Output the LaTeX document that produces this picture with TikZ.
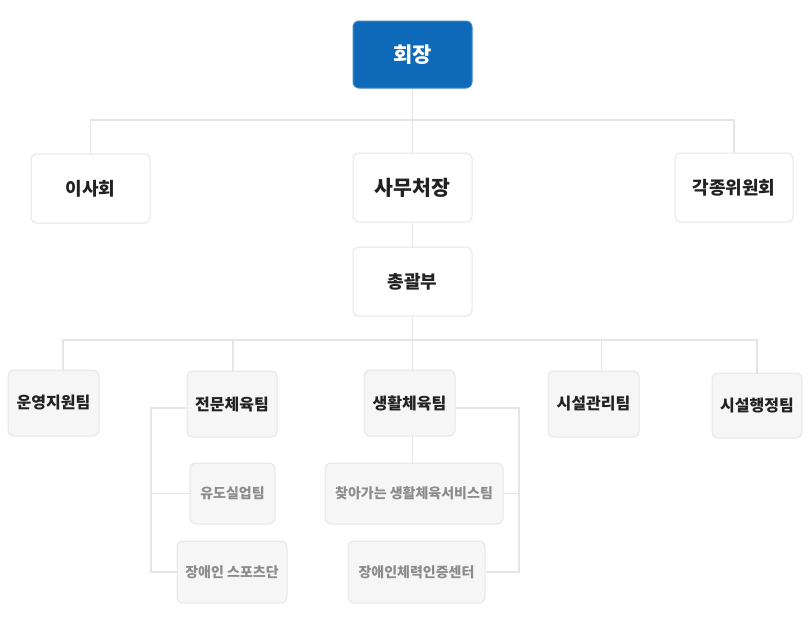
\documentclass[tikz,border=0pt]{standalone}
\usepackage{fontspec}
\usetikzlibrary{backgrounds}
\newfontfamily\kr{Noto Sans CJK KR}
\definecolor{chiefblue}{RGB}{14,106,184}
\definecolor{linegray}{RGB}{229,229,229}
\definecolor{boxline}{RGB}{230,230,230}
\definecolor{boxfill}{RGB}{246,246,246}
\definecolor{headtext}{RGB}{34,34,34}
\definecolor{subtext}{RGB}{140,140,140}
\tikzset{
  basebox/.style={rounded corners=6pt, draw=boxline, line width=1pt, inner sep=0pt, align=center, font=\kr\bfseries},
  chiefbox/.style={basebox, fill=chiefblue, draw=chiefblue!80!white, text=white, font=\kr\bfseries\fontsize{21}{24}\selectfont},
  topbox/.style={basebox, fill=white, text=headtext},
  teambox/.style={basebox, fill=boxfill, text=headtext, font=\kr\bfseries\fontsize{16}{19}\selectfont},
  subbox/.style={basebox, fill=boxfill, text=subtext, font=\kr\bfseries\fontsize{14}{16}\selectfont},
  conn/.style={draw=linegray, line width=1.5pt}
}
\begin{document}
\begin{tikzpicture}[x=1pt,y=1pt]
\useasboundingbox (0,0) rectangle (810,-616);
\coordinate (b1) at (412.5,-120);
\coordinate (b2) at (412.5,-340);
\coordinate (d1) at (63,-340);
\coordinate (d2) at (233,-340);
\coordinate (d4) at (601.5,-340);
\coordinate (d5) at (757,-340);
\coordinate (lx) at (151,-408);
\coordinate (rx) at (519,-408);
\coordinate (cx) at (412.5,0);
% nodes
\node[chiefbox, minimum width=119pt, minimum height=67pt] (chief) at (412.5,-54.5) {회장};
\node[topbox, minimum width=119pt, minimum height=69pt, font=\kr\bfseries\fontsize{18}{21}\selectfont] (board) at (90.5,-188.5) {이사회};
\node[topbox, minimum width=119pt, minimum height=69pt, font=\kr\bfseries\fontsize{20.5}{24}\selectfont] (sec) at (412.5,-187.5) {사무처장};
\node[topbox, minimum width=118pt, minimum height=69pt, font=\kr\bfseries\fontsize{18}{21}\selectfont] (comm) at (734,-187.5) {각종위원회};
\node[topbox, minimum width=119pt, minimum height=69pt, font=\kr\bfseries\fontsize{18}{21}\selectfont] (gen) at (412.5,-281.5) {총괄부};
\node[teambox, minimum width=91pt, minimum height=66pt] (ops) at (53.5,-403) {운영지원팀};
\node[teambox, minimum width=90pt, minimum height=66pt] (pro) at (232,-404) {전문체육팀};
\node[teambox, minimum width=91pt, minimum height=66pt] (life) at (409.5,-403) {생활체육팀};
\node[teambox, minimum width=91pt, minimum height=66pt] (fac) at (593.5,-404) {시설관리팀};
\node[teambox, minimum width=90pt, minimum height=65pt] (adm) at (757,-405.5) {시설행정팀};
\node[subbox, minimum width=85pt, minimum height=61pt] (judo) at (232.5,-493.5) {유도실업팀};
\node[subbox, minimum width=110pt, minimum height=62pt] (sports) at (232,-572) {장애인 스포츠단};
\node[subbox, minimum width=178pt, minimum height=61pt] (visit) at (414,-493.5) {찾아가는 생활체육서비스팀};
\node[subbox, minimum width=137pt, minimum height=62pt] (cert) at (416.5,-572) {장애인체력인증센터};
% connectors
\begin{scope}[on background layer]
\draw[conn] (chief.south) -- (sec.north);
\draw[conn] (board.north) |- (b1) -| (comm.north);
\draw[conn] (sec.south) -- (gen.north);
\draw[conn] (gen.south) -- (cx |- life.north);
\draw[conn] (d1 |- ops.north) |- (b2) -| (d5 |- adm.north);
\draw[conn] (d2) -- (d2 |- pro.north);
\draw[conn] (d4) -- (d4 |- fac.north);
\draw[conn] (lx -| pro.west) -- (lx) |- (sports.west);
\draw[conn] (judo.west) -- (judo.west -| lx);
\draw[conn] (cx |- life.south) -- (cx |- visit.north);
\draw[conn] (rx -| life.east) -- (rx) |- (cert.east);
\draw[conn] (visit.east) -- (visit.east -| rx);
\end{scope}
\end{tikzpicture}
\end{document}
